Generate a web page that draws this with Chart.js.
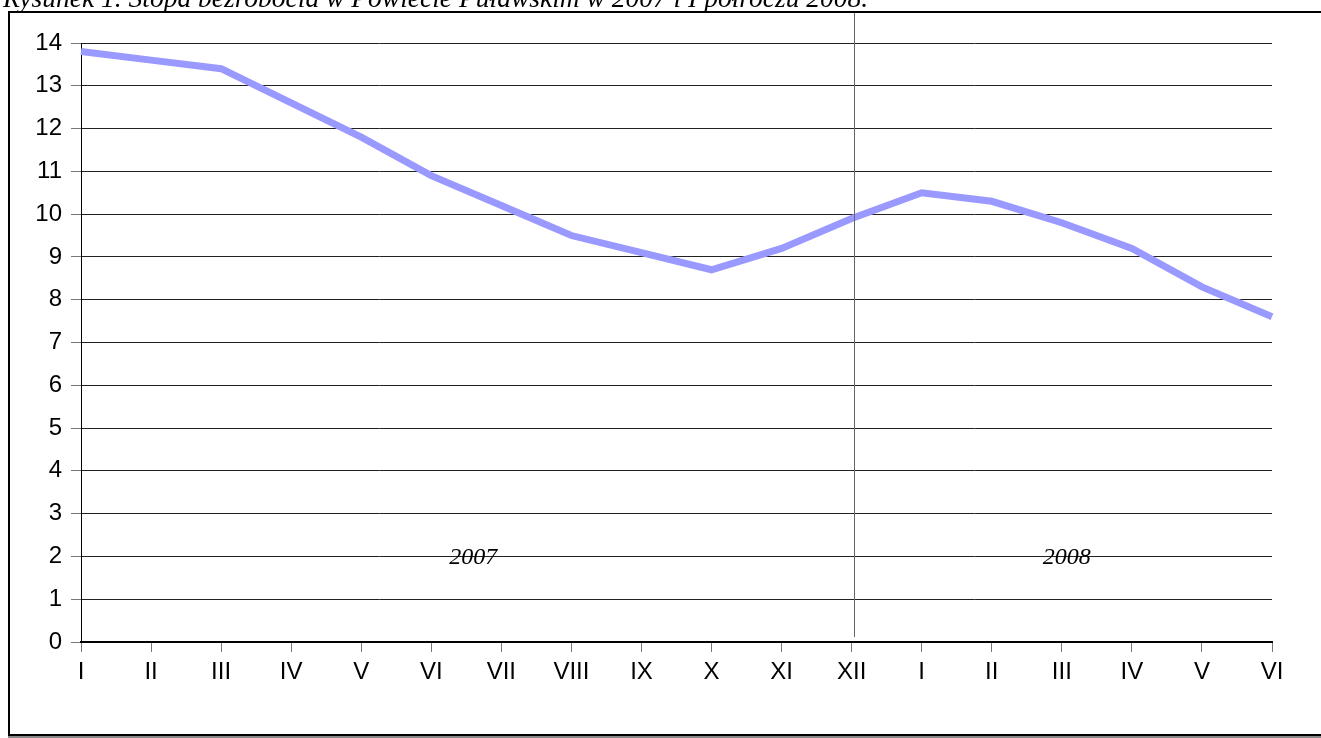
<!DOCTYPE html>
<html>
<head>
<meta charset="utf-8">
<script src="https://cdn.jsdelivr.net/npm/chart.js@4"></script>
<style>
  html, body { margin: 0; padding: 0; background: #fff; overflow: hidden; }
  #wrap { position: absolute; left: 0; top: 0; width: 1321px; height: 738px; }
  #frame { position: absolute; left: 8px; top: 11px; width: 1330px; height: 721px;
           border-left: 2px solid #000; border-top: 2px solid #000; border-bottom: 2px solid #000;
           box-shadow: 0 2px 0 #888; }
  #title { position: absolute; left: 3px; top: -16.5px; font: italic 27.5px "Liberation Serif", "Times New Roman", serif;
           line-height: 27.5px; white-space: nowrap; color: #000; }
  canvas { position: absolute; left: 0; top: 0; }
</style>
</head>
<body>
<div id="wrap">
  <div id="frame"></div>
  <canvas id="c" width="1321" height="738"></canvas>
  <div id="title">Rysunek 1. Stopa bezrobocia w Powiecie Puławskim w 2007 i I półroczu 2008.</div>
</div>
<script>
const months = ["I","II","III","IV","V","VI","VII","VIII","IX","X","XI","XII","I","II","III","IV","V","VI"];
const rate = [13.8,13.6,13.4,12.6,11.8,10.9,10.2,9.5,9.1,8.7,9.2,9.9,10.5,10.3,9.8,9.2,8.3,7.6];
const yearLabels = ["2007","2008"];
const yearPos = [5.6, 14.07];
const yearY = 2;
const dividerIndex = 11;

const overlay = {
  id: 'overlay',
  afterDatasetsDraw(chart) {
    const ctx = chart.ctx, x = chart.scales.x, y = chart.scales.y;
    const px = Math.round(x.getPixelForValue(dividerIndex)) + 2.5;
    ctx.save();
    ctx.strokeStyle = '#666';
    ctx.lineWidth = 1;
    ctx.beginPath();
    ctx.moveTo(px, 13);
    ctx.lineTo(px, y.getPixelForValue(0) - 5);
    ctx.stroke();
    ctx.fillStyle = '#000';
    ctx.font = 'italic 24px "Liberation Serif", "Times New Roman", serif';
    ctx.textAlign = 'center';
    ctx.textBaseline = 'middle';
    yearLabels.forEach((t, i) => {
      ctx.fillText(t, x.getPixelForValue(yearPos[i]), y.getPixelForValue(yearY) + 1);
    });
    ctx.restore();
  }
};

const tickFont = { family: '"Liberation Sans", Arial, sans-serif', size: 24 };

new Chart(document.getElementById('c'), {
  type: 'line',
  data: {
    labels: months,
    datasets: [{
      data: rate,
      borderColor: '#9999ff',
      borderWidth: 7,
      pointRadius: 0,
      tension: 0,
      fill: false
    }]
  },
  options: {
    responsive: false,
    animation: false,
    events: [],
    layout: { padding: { top: 43, right: 49, left: 0, bottom: 0 } },
    plugins: { legend: { display: false }, tooltip: { enabled: false } },
    scales: {
      x: {
        offset: false,
        afterFit(s) { s.height = 96; },
        grid: { drawOnChartArea: false, drawTicks: true, tickLength: 10, tickColor: '#777' },
        border: { color: '#000', width: 2 },
        ticks: { color: '#000', font: tickFont, padding: 6, maxRotation: 0, autoSkip: false }
      },
      y: {
        min: 0, max: 14,
        afterFit(s) { s.width = 81; },
        grid: { color: '#222', lineWidth: 1, tickLength: 10, tickColor: '#777' },
        border: { color: '#000', width: 1 },
        ticks: { stepSize: 1, color: '#000', font: tickFont, padding: 9 }
      }
    }
  },
  plugins: [overlay]
});
</script>
</body>
</html>
